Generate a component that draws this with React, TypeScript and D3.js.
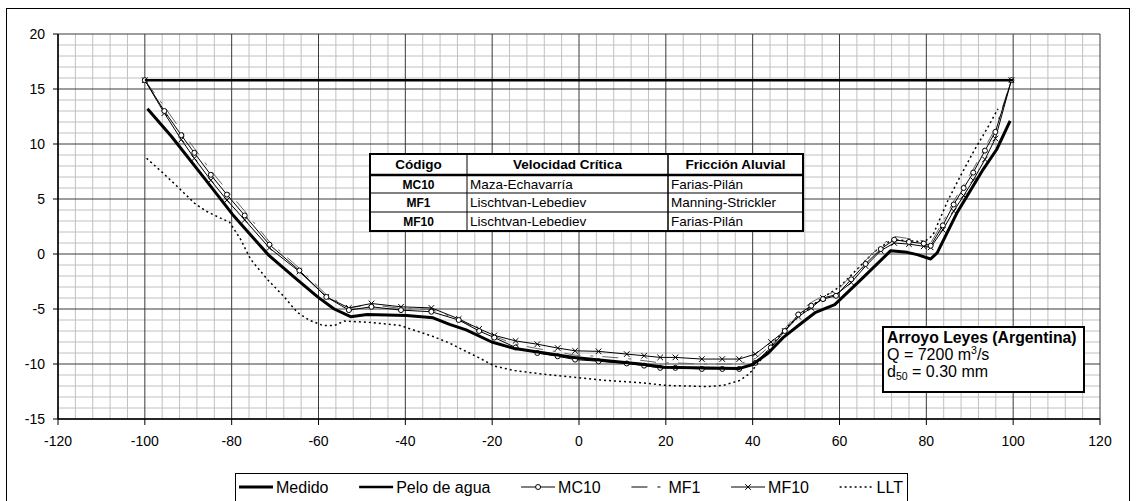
import React from 'react';
import * as d3 from 'd3';

const W = 1136;
const H = 501;
const FONT = "'Liberation Sans', Arial, sans-serif";

// estaciones comunes de los modelos (x en m)
const stationX = [-100, -95.5, -91.6, -88.6, -84.8, -81.1, -77, -71.3, -64.4, -58.2, -53, -47.8, -41, -34, -27.7, -23, -19.5, -14.6, -9.6, -4.9, -0.9, 4.5, 11, 15, 18.7, 22.2, 28.3, 33, 36.9, 40.6, 44.2, 47.4, 50.5, 53.5, 56.2, 59.2, 62.7, 66, 69.5, 72.6, 76, 79.4, 81, 83.8, 86.3, 88.6, 90.8, 93.5, 95.9, 99.6];
const mc10 = [15.8, 13.0, 10.8, 9.2, 7.2, 5.4, 3.5, 0.85, -1.5, -3.9, -5.1, -4.8, -5.1, -5.25, -6.0, -7.0, -7.6, -8.5, -9.0, -9.3, -9.6, -9.75, -9.95, -10.15, -10.35, -10.35, -10.45, -10.45, -10.45, -9.9, -8.5, -7.0, -5.5, -4.7, -4.1, -3.8, -2.3, -0.9, 0.45, 1.3, 1.1, 0.95, 0.75, 2.6, 4.5, 6.0, 7.4, 9.4, 11.1, 15.8];
const mf1 = [15.8, 13.4, 11.2, 9.6, 7.6, 5.8, 3.9, 1.1, -1.3, -3.7, -4.9, -4.6, -4.95, -5.05, -5.95, -6.9, -7.5, -8.2, -8.6, -8.9, -9.2, -9.3, -9.5, -9.7, -9.9, -9.9, -10.0, -10.0, -10.0, -9.5, -8.3, -6.8, -5.3, -4.4, -3.8, -3.4, -2.0, -0.6, 0.8, 1.6, 1.4, 1.2, 1.0, 2.9, 4.8, 6.3, 7.7, 9.7, 11.4, 15.8];
const mf10 = [15.8, 12.8, 10.4, 8.7, 6.7, 4.9, 3.1, 0.55, -1.6, -3.9, -4.9, -4.5, -4.8, -4.9, -5.9, -6.8, -7.4, -7.9, -8.2, -8.55, -8.8, -8.85, -9.1, -9.25, -9.4, -9.4, -9.55, -9.55, -9.55, -9.1, -8.0, -7.0, -5.7, -4.9, -4.0, -3.7, -2.6, -1.1, 0.3, 1.0, 0.9, 0.7, 0.6, 2.2, 3.9, 5.3, 6.7, 8.6, 10.5, 15.8];

// perfil medido
const medidoX = [-99.4, -93.9, -86.3, -79.8, -71.5, -65.6, -60.2, -56.4, -52.6, -48.8, -39.7, -33.6, -29.8, -26, -20.1, -14.8, -1.1, 14.1, 19.5, 37, 40, 43.6, 47, 51.2, 54.5, 58.9, 65, 71.8, 75.6, 77.9, 81, 82.5, 87, 93.1, 96.2, 99.3];
const medidoY = [13.2, 10.7, 6.9, 3.6, -0.1, -2.1, -3.9, -5.0, -5.7, -5.5, -5.6, -5.8, -6.4, -6.9, -8.0, -8.6, -9.4, -10.0, -10.3, -10.4, -10.05, -9.0, -7.6, -6.3, -5.3, -4.6, -2.3, 0.3, 0.15, -0.06, -0.45, 0.1, 3.7, 7.7, 9.5, 12.1];

// LLT
const lltX = [-99.6, -96.2, -92.7, -88.5, -85.9, -82.8, -80.5, -77.9, -75.6, -71.8, -67.9, -64.9, -62.2, -59, -56.3, -54.1, -48.8, -41.2, -37.4, -33.6, -29.8, -26.8, -23.2, -19.4, -14.8, -8.7, -1.1, 6.5, 14.1, 20.2, 29.4, 33.2, 37, 39.2, 40.8, 42.5, 45, 48, 52, 56, 60, 64, 68, 72, 76, 79.5, 81.5, 85, 88, 91, 94, 96.5];
const lltY = [8.7, 7.5, 6.2, 4.6, 3.9, 3.3, 2.9, 1.3, -0.5, -2.3, -3.9, -5.3, -6.0, -6.5, -6.5, -6.1, -6.2, -6.5, -7.0, -7.5, -8.1, -8.7, -9.4, -10.2, -10.6, -10.9, -11.2, -11.5, -11.7, -11.95, -12.05, -11.95, -11.5, -10.9, -10.15, -9.3, -8.0, -6.6, -5.2, -4.0, -3.0, -1.4, 0.2, 1.3, 1.2, 1.1, 1.7, 4.9, 7.2, 9.4, 11.4, 13.2];

// pelo de agua
const waterX = [-100, 100];
const waterY = [15.8, 15.8];

const xTicks = [-120, -100, -80, -60, -40, -20, 0, 20, 40, 60, 80, 100, 120];
const yTicks = [-15, -10, -5, 0, 5, 10, 15, 20];

const tableHead = ['Código', 'Velocidad Crítica', 'Fricción Aluvial'];
const tableRows = [
  ['MC10', 'Maza-Echavarría', 'Farias-Pilán'],
  ['MF1', 'Lischtvan-Lebediev', 'Manning-Strickler'],
  ['MF10', 'Lischtvan-Lebediev', 'Farias-Pilán'],
];
const legendNames = ['Medido', 'Pelo de agua', 'MC10', 'MF1', 'MF10', 'LLT'];

const left = 58, right = 1100, top = 34, bottom = 419;
const x = d3.scaleLinear().domain([-120, 120]).range([left, right]);
const y = d3.scaleLinear().domain([-15, 20]).range([bottom, top]);

const line = d3.line<[number, number]>().x(d => x(d[0])).y(d => y(d[1]));
const zip = (xs: number[], ys: number[]) => xs.map((v, i) => [v, ys[i]] as [number, number]);

const styles: Record<string, any> = {
  Medido: { stroke: '#000', width: 3 },
  'Pelo de agua': { stroke: '#000', width: 2.5 },
  MC10: { stroke: '#000', width: 1, marker: 'circle' },
  MF1: { stroke: '#666', width: 1, dash: '16,10,3,9' },
  MF10: { stroke: '#000', width: 1, marker: 'x' },
  LLT: { stroke: '#000', width: 1.5, dash: '2,3' },
};

function Marker({ kind, cx, cy }: { kind: string; cx: number; cy: number }) {
  if (kind === 'circle') return <circle cx={cx} cy={cy} r={2.5} fill="#fff" stroke="#000" strokeWidth={1} />;
  const s = 2.8;
  return <path d={`M${cx - s},${cy - s}L${cx + s},${cy + s}M${cx - s},${cy + s}L${cx + s},${cy - s}`} stroke="#000" strokeWidth={1} />;
}

function measure(t: string, font: string) {
  const c = document.createElement('canvas').getContext('2d');
  if (!c) return t.length * 8;
  c.font = font;
  return c.measureText(t).width;
}

export default function App() {
  const minorX = d3.range(-120, 121, 4).filter(v => v % 20 !== 0);
  const minorY = d3.range(-15, 21, 1).filter(v => v % 5 !== 0);

  const series = [
    { name: 'LLT', pts: zip(lltX, lltY) },
    { name: 'MF1', pts: zip(stationX, mf1) },
    { name: 'MF10', pts: zip(stationX, mf10) },
    { name: 'MC10', pts: zip(stationX, mc10) },
    { name: 'Medido', pts: zip(medidoX, medidoY) },
    { name: 'Pelo de agua', pts: zip(waterX, waterY) },
  ];

  // tabla
  const colX = [370, 467, 668, 803];
  const rowY = [154, 175, 193, 212, 231];

  // leyenda
  const legFont = `16px ${FONT}`;
  const lgLeft = 235, lgRight = 907, lgTop = 473;
  const sampleW = 34;
  const widths = legendNames.map(n => measure(n, legFont));
  const natural = widths.reduce((a, b) => a + b, 0) + legendNames.length * (sampleW + 3);
  const gap = (lgRight - lgLeft - 8 - natural) / (legendNames.length - 1);
  let cursor = lgLeft + 4;
  const legItems = legendNames.map((n, i) => {
    const it = { name: n, sx: cursor, tx: cursor + sampleW + 3 };
    cursor += sampleW + 3 + widths[i] + gap;
    return it;
  });
  const legY = 488;

  return (
    <div style={{ position: 'fixed', left: 0, top: 0 }}>
      <svg width={W} height={H} style={{ display: 'block', background: '#fff' }} fontFamily={FONT}>
        <rect x={6.5} y={8.5} width={1123} height={520} fill="#fff" stroke="#000" strokeWidth={1} />

        {/* rejilla menor */}
        {minorX.map(v => <line key={'mx' + v} x1={x(v)} x2={x(v)} y1={top} y2={bottom} stroke="#c0c0c0" strokeWidth={1} />)}
        {minorY.map(v => <line key={'my' + v} x1={left} x2={right} y1={y(v)} y2={y(v)} stroke="#c0c0c0" strokeWidth={1} />)}
        {/* rejilla mayor */}
        {xTicks.map(v => <line key={'gx' + v} x1={x(v)} x2={x(v)} y1={top} y2={bottom} stroke="#3a3a3a" strokeWidth={1} />)}
        {yTicks.map(v => <line key={'gy' + v} x1={left} x2={right} y1={y(v)} y2={y(v)} stroke="#3a3a3a" strokeWidth={1} />)}

        {/* ejes */}
        <line x1={left} x2={left} y1={top} y2={bottom} stroke="#000" strokeWidth={1.5} />
        <line x1={left} x2={right} y1={bottom} y2={bottom} stroke="#000" strokeWidth={1.5} />
        {yTicks.map(v => (
          <g key={'ty' + v}>
            <line x1={left - 5} x2={left} y1={y(v)} y2={y(v)} stroke="#000" />
            <text x={left - 13} y={y(v) + 5} textAnchor="end" fontSize={14}>{v}</text>
          </g>
        ))}
        {xTicks.map(v => (
          <g key={'tx' + v}>
            <line x1={x(v)} x2={x(v)} y1={bottom} y2={bottom + 6} stroke="#000" />
            <text x={x(v)} y={bottom + 27} textAnchor="middle" fontSize={14}>{v}</text>
          </g>
        ))}

        {/* series */}
        {series.map(s => {
          const st = styles[s.name];
          return (
            <g key={s.name}>
              <path d={line(s.pts) || ''} fill="none" stroke={st.stroke} strokeWidth={st.width}
                strokeDasharray={st.dash} strokeLinejoin="round" />
              {st.marker && s.pts.map((p, i) => <Marker key={i} kind={st.marker} cx={x(p[0])} cy={y(p[1])} />)}
            </g>
          );
        })}

        {/* tabla de modelos */}
        <rect x={colX[0]} y={rowY[0]} width={colX[3] - colX[0]} height={rowY[4] - rowY[0]} fill="#fff" />
        {rowY.slice(1, 4).map((ry, i) => (
          <line key={'r' + i} x1={colX[0]} x2={colX[3]} y1={ry} y2={ry} stroke="#000" strokeWidth={i === 0 ? 2.5 : 1} />
        ))}
        {colX.slice(1, 3).map((cx, i) => (
          <line key={'c' + i} x1={cx} x2={cx} y1={rowY[0]} y2={rowY[4]} stroke="#000" strokeWidth={i === 1 ? 1.5 : 1} />
        ))}
        <rect x={colX[0]} y={rowY[0]} width={colX[3] - colX[0]} height={rowY[4] - rowY[0]} fill="none" stroke="#000" strokeWidth={2} />
        {tableHead.map((t, i) => (
          <text key={t} x={(colX[i] + colX[i + 1]) / 2} y={rowY[0] + 15} textAnchor="middle" fontSize={13.5} fontWeight="bold">{t}</text>
        ))}
        {tableRows.map((r, j) => (
          <g key={r[0] + j}>
            <text x={(colX[0] + colX[1]) / 2} y={rowY[j + 1] + 14} textAnchor="middle" fontSize={12} fontWeight="bold">{r[0]}</text>
            <text x={colX[1] + 3} y={rowY[j + 1] + 14} fontSize={13.5}>{r[1]}</text>
            <text x={colX[2] + 3} y={rowY[j + 1] + 14} fontSize={13.5}>{r[2]}</text>
          </g>
        ))}

        {/* datos del caso */}
        <rect x={883} y={327} width={201} height={65} fill="#fff" stroke="#000" strokeWidth={2} />
        <text x={887} y={343} fontSize={15.8} fontWeight="bold">Arroyo Leyes (Argentina)</text>
        <text x={887} y={360} fontSize={16}>Q = 7200 m<tspan fontSize={10.5} dy={-6}>3</tspan><tspan dy={6}>/s</tspan></text>
        <text x={887} y={377} fontSize={16}>d<tspan fontSize={10.5} dy={3}>50</tspan><tspan dy={-3}> = 0.30 mm</tspan></text>

        {/* leyenda */}
        <rect x={lgLeft + 0.5} y={lgTop + 0.5} width={lgRight - lgLeft} height={40} fill="#fff" stroke="#000" strokeWidth={1} />
        {legItems.map(it => {
          const st = styles[it.name];
          const cy = legY - 1;
          return (
            <g key={it.name}>
              <line x1={it.sx} x2={it.sx + sampleW} y1={cy} y2={cy} stroke={it.name === 'MF1' ? '#000' : st.stroke}
                strokeWidth={st.width} strokeDasharray={st.dash} />
              {st.marker && <Marker kind={st.marker} cx={it.sx + sampleW / 2} cy={cy} />}
              <text x={it.tx} y={legY + 5} fontSize={16}>{it.name}</text>
            </g>
          );
        })}
      </svg>
    </div>
  );
}
